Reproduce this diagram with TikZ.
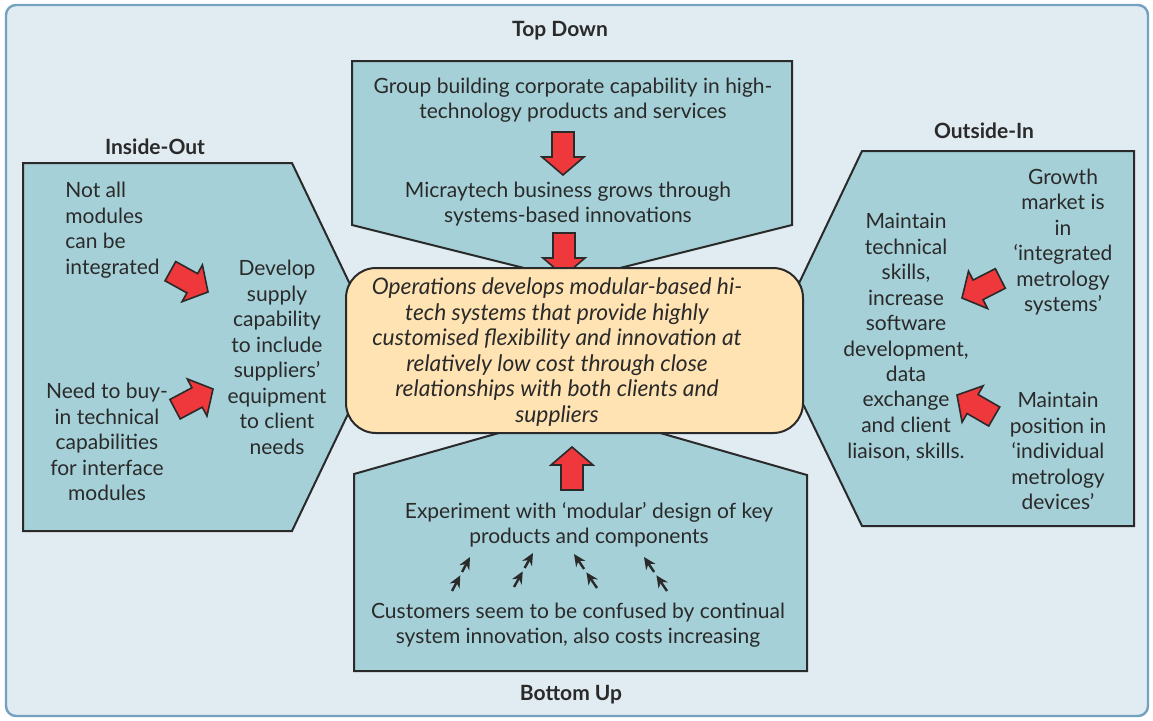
\documentclass[tikz,border=0pt]{standalone}
\usepackage{fontspec}
\setmainfont{Lato}
\usetikzlibrary{arrows.meta,calc}
\definecolor{bgc}{HTML}{E0EBF2}
\definecolor{framec}{HTML}{72A2C0}
\definecolor{boxc}{HTML}{A5D0D7}
\definecolor{corec}{HTML}{FFE3B3}
\definecolor{redc}{HTML}{EE383C}
\definecolor{inkc}{HTML}{2A2A2A}
\tikzset{
  panel/.style={draw=inkc, line width=1pt, fill=boxc, line join=miter},
  core/.style={draw=inkc, line width=1pt, fill=corec, rounded corners=15pt},
  txt/.style={text=inkc, font=\fontsize{10.5}{12.75}\selectfont, align=center, inner sep=0pt},
  itxt/.style={txt, font=\fontsize{11.4}{12.8}\selectfont\itshape},
  head/.style={text=inkc, font=\fontsize{10.5}{12.75}\selectfont\bfseries, inner sep=0pt},
  redarr/.style={fill=redc, draw=inkc, line width=0.8pt, line join=miter},
  blockarrow/.pic={\draw[redarr] (0,0) -- (-18,-21) -- (-18,-11) -- (-43,-11) -- (-43,11) -- (-18,11) -- (-18,21) -- cycle;},
  small/.style={draw=inkc, line width=1.2pt, -{Stealth[length=6pt,width=5.5pt]}}
}
\begin{document}
\begin{tikzpicture}[x=0.5pt,y=-0.5pt]
\useasboundingbox (0,0) rectangle (1153,720);
\fill[white] (0,0) rectangle (1153,720);
\draw[draw=framec, line width=1.2pt, fill=bgc, rounded corners=5pt] (6,5) rectangle (1148,716);

% panels
\draw[panel] (352,61) -- (792,61) -- (792,225) -- (572,280) -- (352,225) -- cycle;
\draw[panel] (23,163) -- (292,163) -- (380,347) -- (292,531) -- (23,531) -- cycle;
\draw[panel] (862,151) -- (1134,151) -- (1134,526) -- (862,526) -- (772,340) -- cycle;
\draw[panel] (354,671) -- (354,474) -- (580,410) -- (807,475) -- (807,671) -- cycle;

% block arrows
\pic[rotate=-90] at (563,175) {blockarrow};
\pic[rotate=-90] at (564,276) {blockarrow};
\pic[rotate=90] at (572,447) {blockarrow};
\pic[rotate=-29] at (208,292) {blockarrow};
\pic[rotate=28] at (213,389) {blockarrow};
\pic[rotate=-153] at (962,298) {blockarrow};
\pic[rotate=150] at (957,395) {blockarrow};

% core
\draw[core] (346,268) rectangle (803,433);
\node[itxt] (core) at (557,352) {Operations develops modular-based hi-\\tech systems that provide highly\\customised flexibility and innovation at\\relatively low cost through close\\relationships with both clients and\\suppliers};

% headings
\node[head] (td) at (560,31) {Top Down};
\node[head] (io) at (155,147) {Inside-Out};
\node[head] (oi) at (984,131) {Outside-In};
\node[head] (bu) at (571,695) {Bottom Up};

% top texts
\node[txt] (t1) at (573,100) {Group building corporate capability in high-\\technology products and services};
\node[txt] (t2) at (568,204) {Micraytech business grows through\\systems-based innovations};

% inside-out texts
\node[txt, align=left, anchor=west] (l1) at (65,230) {Not all\\modules\\can be\\integrated};
\node[txt] (l2) at (107,442) {Need to buy-\\in technical\\capabilities\\for interface\\modules};
\node[txt] (l3) at (277,357.5) {Develop\\supply\\capability\\to include\\suppliers'\\equipment\\to client\\needs};

% outside-in texts
\node[txt] (r1) at (906,337) {Maintain\\technical\\skills,\\increase\\software\\development,\\data\\exchange\\and client\\liaison, skills.};
\node[txt] (r2) at (1063,242) {Growth\\market is\\in\\‘integrated\\metrology\\systems’};
\node[txt] (r3) at (1058,451) {Maintain\\position in\\‘individual\\metrology\\devices’};

% bottom texts
\node[txt] (b1) at (589,525) {Experiment with ‘modular’ design of key\\products and components};
\node[txt] (b2) at (578,625) {Customers seem to be confused by continual\\system innovation, also costs increasing};

% small arrows
\coordinate (s1) at (452,591); \coordinate (e1) at (470,557);
\coordinate (s2) at (514,587); \coordinate (e2) at (533,553);
\coordinate (s3) at (597,588); \coordinate (e3) at (574,554);
\coordinate (s4) at (667,591); \coordinate (e4) at (644,557);
\foreach \i in {1,2,3,4}{
  \draw[small] (s\i) -- ($(s\i)!0.46!(e\i)$);
  \draw[small] ($(s\i)!0.56!(e\i)$) -- (e\i);
}
\end{tikzpicture}
\end{document}
